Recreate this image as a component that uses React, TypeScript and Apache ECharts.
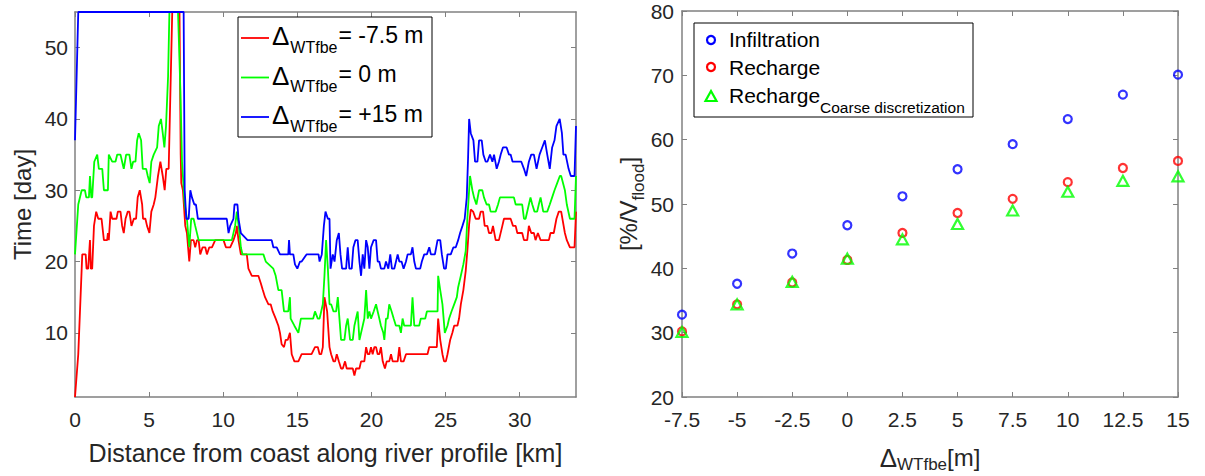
import React, { useEffect, useRef } from "react";
import * as echarts from "echarts";

const FONT = "'Liberation Sans', Arial, Helvetica, sans-serif";
const AXIS_GRAY = "#808080";
const TEXT_DARK = "#262626";

// ---------- Left chart: arrival time along river profile ----------
const profileXTicks = [0, 5, 10, 15, 20, 25, 30];
const profileYTicks = [10, 20, 30, 40, 50];
const profileXMax = 33.8;
const profileYMin = 1;
const profileYMax = 55;

const redProfile = [
  [0, 1], [0.22, 7], [0.49, 21], [0.72, 21], [0.78, 19], [0.89, 19], [1.01, 23], [1.07, 19], [1.16, 19], [1.28, 25],
  [1.43, 27], [1.57, 26], [1.79, 26], [1.95, 23], [2.17, 23], [2.22, 24], [2.28, 23], [2.4, 27], [2.51, 26], [2.8, 26],
  [2.89, 27], [3.07, 27], [3.18, 25], [3.29, 24], [3.41, 26], [3.56, 27], [3.67, 27], [3.81, 25], [3.97, 26], [4.12, 26],
  [4.23, 29], [4.37, 30], [4.53, 28], [4.59, 26], [4.75, 26], [4.86, 25], [5.02, 24], [5.15, 27], [5.31, 28], [5.42, 29],
  [5.6, 32], [5.76, 34], [5.92, 32], [6.05, 30], [6.16, 33], [6.32, 33], [6.56, 55], [7.05, 55], [7.13, 35], [7.17, 31],
  [7.28, 30], [7.44, 25], [7.55, 24], [7.71, 20], [7.82, 23], [8.0, 23], [8.11, 22], [8.23, 23], [8.34, 23], [8.45, 21],
  [8.61, 22], [8.79, 22], [8.9, 21], [9.06, 22], [9.24, 22], [9.46, 23], [10.02, 23], [10.18, 22], [10.47, 22], [10.69, 23],
  [10.85, 24], [10.92, 25], [11.03, 23], [11.19, 21], [11.59, 21], [11.7, 19], [11.93, 18], [12.37, 18], [12.53, 17], [12.67, 16],
  [12.82, 15], [13.05, 14], [13.2, 14], [13.34, 13], [13.54, 12], [13.72, 11], [13.83, 10], [13.94, 8.4], [14.1, 8], [14.21, 9],
  [14.35, 9], [14.5, 10], [14.62, 7], [14.8, 6], [15.07, 6], [15.29, 7], [15.96, 7], [16.19, 8], [16.38, 8], [16.5, 7],
  [16.61, 7], [16.72, 8], [16.83, 15], [17.01, 13], [17.17, 8], [17.28, 7], [17.44, 6], [17.55, 6], [17.66, 7], [17.8, 6],
  [17.95, 5], [18.07, 5], [18.22, 6], [18.33, 5], [18.74, 5], [18.85, 4], [18.96, 5], [19.19, 5], [19.3, 6], [19.52, 6],
  [19.64, 8], [19.75, 7], [19.86, 7], [19.97, 8], [20.08, 7], [20.2, 8], [20.31, 8], [20.42, 7], [20.53, 7], [20.64, 8],
  [20.76, 6], [20.91, 5], [21.03, 6], [21.2, 6], [21.32, 7], [21.43, 6], [21.77, 6], [21.88, 8], [21.99, 6], [22.17, 6],
  [22.33, 7], [23.78, 7], [23.9, 8], [24.41, 8], [24.5, 12], [24.64, 9], [24.79, 7], [24.9, 6], [25.02, 6], [25.13, 7],
  [25.31, 9], [25.46, 10], [25.58, 11], [25.8, 11], [25.91, 12], [26.03, 14], [26.2, 16], [26.36, 18.7], [26.47, 21.5], [26.59, 25.2],
  [26.7, 27.3], [26.86, 27], [27.03, 26], [27.26, 26], [27.37, 27], [27.53, 27], [27.64, 25], [27.82, 25], [27.93, 24], [28.09, 24],
  [28.2, 25], [28.38, 23], [28.6, 23], [28.83, 25], [28.94, 26], [29.39, 26], [29.55, 25], [29.73, 25], [29.84, 24], [30.17, 24],
  [30.29, 23], [30.51, 23], [30.62, 25], [30.78, 24], [30.96, 24], [31.07, 23], [31.23, 24], [31.41, 23], [31.97, 23], [32.08, 24],
  [32.3, 24], [32.48, 26], [32.64, 27], [32.8, 27], [33.05, 24], [33.18, 23], [33.39, 22], [33.7, 22], [33.8, 27],
];

const greenProfile = [
  [0, 21], [0.22, 28], [0.45, 30], [0.67, 30], [0.76, 29], [0.94, 29], [1.01, 32], [1.1, 29], [1.16, 29], [1.3, 34],
  [1.5, 35], [1.61, 33], [1.84, 33], [1.95, 30], [2.22, 30], [2.28, 35], [2.51, 34], [2.73, 34], [2.85, 35], [3.07, 35],
  [3.18, 34], [3.29, 33], [3.45, 35], [3.67, 35], [3.81, 33], [3.92, 34], [4.08, 34], [4.19, 37], [4.3, 38], [4.46, 37],
  [4.57, 33], [4.8, 33], [4.91, 32], [5.04, 31], [5.15, 34], [5.31, 35], [5.54, 36], [5.65, 39], [5.8, 40], [5.92, 38],
  [6.03, 36], [6.14, 39], [6.28, 46], [6.37, 55], [6.95, 55], [7.11, 44], [7.22, 34], [7.4, 28], [7.55, 26], [7.71, 22],
  [7.84, 26], [8.0, 26], [8.11, 25], [8.34, 23], [10.58, 23], [10.8, 25], [10.92, 27], [11.1, 24], [11.19, 22], [11.3, 21],
  [12.71, 21], [12.87, 20], [13.38, 19], [13.54, 18], [13.72, 16], [13.94, 16], [14.1, 13], [14.39, 13], [14.5, 15], [14.55, 12],
  [14.8, 11], [15.07, 10], [15.24, 12], [16.07, 12], [16.19, 13], [16.38, 12], [16.5, 12], [16.61, 13], [16.72, 14], [16.83, 18],
  [16.94, 23], [17.06, 19], [17.17, 14], [17.28, 14], [17.44, 13], [17.62, 13], [17.73, 15], [17.84, 12], [17.95, 9], [18.18, 9],
  [18.29, 11], [18.4, 12], [18.56, 9], [18.74, 9], [18.85, 11], [18.96, 12], [19.07, 13], [19.19, 9], [19.3, 10], [19.41, 11],
  [19.52, 12], [19.64, 16], [19.75, 12], [19.86, 13], [19.97, 12], [20.15, 13], [20.31, 14], [20.42, 13], [20.53, 12], [20.64, 11],
  [20.8, 10], [20.87, 9], [20.98, 12], [21.09, 12], [21.2, 14], [21.36, 13], [21.5, 12], [21.65, 11], [21.88, 11], [21.99, 10],
  [22.1, 12], [22.21, 11], [22.66, 11], [22.77, 15], [22.89, 11], [23.22, 11], [23.33, 12], [23.63, 12], [23.74, 13], [24.46, 13],
  [24.5, 18], [24.64, 16], [24.79, 14], [24.95, 10], [25.13, 11], [25.24, 12], [25.4, 13], [25.58, 14], [25.76, 15], [25.85, 16.4],
  [26.03, 18], [26.2, 19.6], [26.36, 21.5], [26.47, 26], [26.59, 30], [26.65, 32], [26.81, 30], [26.92, 29], [27.08, 28], [27.26, 30],
  [27.48, 30], [27.59, 29], [27.77, 28], [27.93, 28], [28.04, 27], [28.38, 27], [28.54, 28], [28.67, 29], [29.61, 29], [29.73, 28],
  [30.17, 28], [30.29, 26], [30.4, 26], [30.62, 28], [30.73, 29], [30.85, 28], [31.0, 27], [31.18, 27], [31.29, 28], [31.41, 29],
  [31.59, 27], [31.86, 27], [32.03, 28], [32.19, 29], [32.35, 30], [32.53, 31], [32.71, 32], [32.8, 32], [33.05, 30], [33.18, 28],
  [33.39, 26], [33.7, 26], [33.8, 32],
];

const blueProfile = [
  [0, 37], [0.22, 55], [7.33, 55], [7.4, 30], [7.51, 26], [7.67, 26], [7.78, 30], [7.89, 29], [8.05, 28], [8.16, 28],
  [8.29, 26], [10.24, 26], [10.36, 24], [10.47, 25], [10.69, 26], [10.76, 28], [10.96, 28], [11.03, 26], [11.19, 24], [11.64, 23],
  [13.27, 23], [13.38, 22], [13.61, 22], [13.83, 21], [14.39, 21], [14.44, 23], [14.5, 21], [14.73, 21], [14.84, 19.6], [15.0, 19],
  [15.18, 20], [15.29, 20], [15.62, 21], [16.43, 21], [16.5, 20], [16.65, 21], [16.79, 25], [16.9, 27], [17.06, 26], [17.17, 26],
  [17.24, 19], [17.39, 21], [17.51, 20], [17.66, 23], [17.8, 24], [17.91, 21], [18.02, 19], [18.29, 19], [18.4, 22], [18.51, 19],
  [18.67, 19], [18.78, 22], [18.92, 23], [19.07, 23], [19.19, 20], [19.3, 18], [19.41, 21], [19.52, 19], [19.64, 23], [19.75, 22],
  [19.86, 19], [19.97, 22], [20.15, 23], [20.31, 23], [20.42, 20], [20.53, 20], [20.64, 19], [20.87, 19], [20.98, 20], [21.14, 19],
  [21.27, 21], [21.38, 19], [21.54, 19], [21.77, 21], [21.88, 20], [22.03, 20], [22.17, 19], [22.33, 20], [22.44, 21], [22.66, 21],
  [22.77, 22], [22.89, 20], [23.0, 19], [23.29, 19], [23.4, 20], [23.56, 21], [23.74, 21], [23.9, 22], [24.01, 21], [24.28, 21],
  [24.46, 23], [24.64, 23], [24.75, 21], [24.9, 19], [25.02, 19], [25.13, 21], [25.35, 21], [25.53, 22], [25.69, 22], [25.85, 23],
  [25.98, 24], [26.14, 25], [26.29, 26], [26.43, 29], [26.52, 34.6], [26.59, 40], [26.7, 38], [26.88, 37], [26.99, 34], [27.15, 34],
  [27.26, 37], [27.44, 37], [27.55, 35], [27.71, 34], [27.82, 34], [28.0, 35], [28.16, 34], [28.27, 35], [28.45, 33], [28.6, 34],
  [28.72, 35], [28.87, 36], [29.12, 36], [29.28, 35], [29.39, 35], [29.52, 34], [30.11, 34], [30.29, 33], [30.44, 32], [30.62, 34],
  [30.78, 35], [30.96, 35], [31.14, 33], [31.34, 35], [31.52, 36], [31.7, 37], [31.86, 35], [32.03, 33], [32.19, 36], [32.35, 37],
  [32.48, 39], [32.7, 40], [32.85, 38], [32.95, 35], [33.1, 35], [33.3, 33], [33.45, 32], [33.7, 32], [33.8, 39],
];

const profileLegendValues = ["-7.5 m", "0 m", "+15 m"];
const profileColors = ["#ff0000", "#00ff00", "#0000ff"];

// ---------- Right chart: infiltration / recharge vs ΔWTfbe ----------
const deltaValues = [-7.5, -5, -2.5, 0, 2.5, 5, 7.5, 10, 12.5, 15];
const infiltration = [32.8, 37.6, 42.3, 46.7, 51.2, 55.4, 59.3, 63.2, 67.0, 70.1];
const recharge = [30.2, 34.4, 37.8, 41.3, 45.5, 48.6, 50.8, 53.4, 55.6, 56.7];
const rechargeCoarse = [30.1, 34.4, 37.9, 41.5, 44.5, 46.9, 49.0, 51.9, 53.6, 54.3];
const scatterNames = ["Infiltration", "Recharge", "Recharge", "Coarse discretization"];

function baseAxis(extra: any) {
  return {
    type: "value",
    nameMoveOverlap: false,
    axisLine: { show: true, onZero: false, lineStyle: { color: AXIS_GRAY, width: 1.5 } },
    axisTick: { show: true, inside: true, length: 5, lineStyle: { color: AXIS_GRAY, width: 1 } },
    splitLine: { show: false },
    minorTick: { show: false },
    axisLabel: { show: true, color: TEXT_DARK, fontSize: 21, fontFamily: FONT, margin: 12 },
    ...extra,
  };
}

function buildOption() {
  const profiles = [redProfile, greenProfile, blueProfile];
  const lineSeries = profiles.map((d, i) => ({
    type: "line",
    name: "ΔWTfbe = " + profileLegendValues[i],
    xAxisIndex: 0,
    yAxisIndex: 0,
    data: d,
    symbol: "none",
    showSymbol: false,
    silent: true,
    clip: true,
    lineStyle: { color: profileColors[i], width: 1.8 },
    itemStyle: { color: profileColors[i] },
  }));

  const hollow = (color: string) => ({ color: "rgba(0,0,0,0)", borderColor: color, borderWidth: 2.2 });
  const scatterSeries = [
    {
      type: "scatter", name: scatterNames[0], xAxisIndex: 2, yAxisIndex: 2, silent: true,
      data: deltaValues.map((x, i) => [x, infiltration[i]]),
      symbol: "circle", symbolSize: 8, itemStyle: hollow("#0000ff"),
    },
    {
      type: "scatter", name: scatterNames[1], xAxisIndex: 2, yAxisIndex: 2, silent: true,
      data: deltaValues.map((x, i) => [x, recharge[i]]),
      symbol: "circle", symbolSize: 8, itemStyle: hollow("#ff0000"),
    },
    {
      type: "scatter", name: scatterNames[2] + " " + scatterNames[3], xAxisIndex: 2, yAxisIndex: 2, silent: true,
      data: deltaValues.map((x, i) => [x, rechargeCoarse[i]]),
      symbol: "triangle", symbolSize: [11, 10], itemStyle: hollow("#00ff00"),
    },
  ];

  const legendRich = {
    d: { fontSize: 26, lineHeight: 26, fontFamily: FONT, fill: "#000", verticalAlign: "top" },
    s: { fontSize: 16, lineHeight: 16, fontFamily: FONT, fill: "#000", verticalAlign: "top", padding: [16, 1, 0, 1] },
    n: { fontSize: 23, lineHeight: 23, fontFamily: FONT, fill: "#000", verticalAlign: "top" },
  };

  const leftLegend: any[] = [
    { type: "rect", z: 100, shape: { x: 238, y: 17, width: 194, height: 120 }, style: { fill: "#fff", stroke: "#000", lineWidth: 1 } },
  ];
  profileLegendValues.forEach((v, i) => {
    const rowY = 38 + 39.5 * i;
    leftLegend.push({
      type: "line", z: 101,
      shape: { x1: 241, y1: rowY, x2: 269, y2: rowY },
      style: { stroke: profileColors[i], lineWidth: 1.8 },
    });
    leftLegend.push({
      type: "text", z: 101, x: 272, y: rowY - 15,
      style: { text: "{d|Δ}{s|WTfbe}{n|= " + v + "}", rich: legendRich, align: "left", verticalAlign: "top" },
    });
  });

  const rightLegend: any[] = [
    { type: "rect", z: 100, shape: { x: 694, y: 23, width: 279, height: 94 }, style: { fill: "#fff", stroke: "#000", lineWidth: 1 } },
    { type: "circle", z: 101, shape: { cx: 711, cy: 40, r: 4 }, style: { fill: "none", stroke: "#0000ff", lineWidth: 2.2 } },
    { type: "circle", z: 101, shape: { cx: 711, cy: 67, r: 4 }, style: { fill: "none", stroke: "#ff0000", lineWidth: 2.2 } },
    { type: "polygon", z: 101, shape: { points: [[705.5, 101], [716.5, 101], [711, 91]] }, style: { fill: "none", stroke: "#00ff00", lineWidth: 2.2 } },
    { type: "text", z: 101, x: 729, y: 39.5, style: { text: scatterNames[0], fontSize: 21, fontFamily: FONT, fill: "#000", align: "left", verticalAlign: "middle" } },
    { type: "text", z: 101, x: 729, y: 67.5, style: { text: scatterNames[1], fontSize: 21, fontFamily: FONT, fill: "#000", align: "left", verticalAlign: "middle" } },
    {
      type: "text", z: 101, x: 729, y: 85,
      style: {
        text: "{m|" + scatterNames[2] + "}{s|" + scatterNames[3] + "}",
        align: "left", verticalAlign: "top",
        rich: {
          m: { fontSize: 21, lineHeight: 21, fontFamily: FONT, fill: "#000", verticalAlign: "top" },
          s: { fontSize: 15.5, lineHeight: 15, fontFamily: FONT, fill: "#000", verticalAlign: "top", padding: [14, 0, 0, 0] },
        },
      },
    },
  ];

  return {
    animation: false,
    backgroundColor: "#ffffff",
    textStyle: { fontFamily: FONT },
    grid: [
      { left: 75, top: 12, width: 501, height: 385, outerBoundsMode: "none", containLabel: false },
      { left: 682, top: 11, width: 496, height: 386, outerBoundsMode: "none", containLabel: false },
    ],
    xAxis: [
      baseAxis({
        gridIndex: 0, position: "bottom", min: 0, max: profileXMax, interval: 5,
        axisLabel: { show: true, color: TEXT_DARK, fontSize: 21, fontFamily: FONT, margin: 12, customValues: profileXTicks },
        axisTick: { show: true, inside: true, length: 5, lineStyle: { color: AXIS_GRAY, width: 1 }, customValues: profileXTicks },
        name: "Distance from coast along river profile [km]",
        nameLocation: "middle", nameGap: 43,
        nameTextStyle: { fontSize: 25, color: TEXT_DARK, fontFamily: FONT },
      }),
      baseAxis({
        gridIndex: 0, position: "top", min: 0, max: profileXMax, interval: 5,
        axisLabel: { show: false },
        axisTick: { show: true, inside: true, length: 5, lineStyle: { color: AXIS_GRAY, width: 1 }, customValues: profileXTicks },
      }),
      baseAxis({
        gridIndex: 1, position: "bottom", min: -7.5, max: 15, interval: 2.5,
        name: "{d|Δ}{s|WTfbe}{m|[m]}",
        nameLocation: "middle", nameGap: 48,
        nameTextStyle: {
          color: TEXT_DARK, fontFamily: FONT,
          rich: {
            d: { fontSize: 26, lineHeight: 26, color: TEXT_DARK, fontFamily: FONT, verticalAlign: "top" },
            s: { fontSize: 17, lineHeight: 17, color: TEXT_DARK, fontFamily: FONT, verticalAlign: "top", padding: [11, 0, 0, 0] },
            m: { fontSize: 24, lineHeight: 24, color: TEXT_DARK, fontFamily: FONT, verticalAlign: "top" },
          },
        },
      }),
      baseAxis({
        gridIndex: 1, position: "top", min: -7.5, max: 15, interval: 2.5,
        axisLabel: { show: false },
      }),
    ],
    yAxis: [
      baseAxis({
        gridIndex: 0, position: "left", min: profileYMin, max: profileYMax, interval: 10,
        axisLabel: { show: true, color: TEXT_DARK, fontSize: 21, fontFamily: FONT, margin: 7, customValues: profileYTicks },
        axisTick: { show: true, inside: true, length: 5, lineStyle: { color: AXIS_GRAY, width: 1 }, customValues: profileYTicks },
        name: "Time [day]",
        nameLocation: "middle", nameGap: 41,
        nameTextStyle: { fontSize: 24, color: TEXT_DARK, fontFamily: FONT },
      }),
      baseAxis({
        gridIndex: 0, position: "right", min: profileYMin, max: profileYMax, interval: 10,
        axisLabel: { show: false },
        axisTick: { show: true, inside: true, length: 5, lineStyle: { color: AXIS_GRAY, width: 1 }, customValues: profileYTicks },
      }),
      baseAxis({
        gridIndex: 1, position: "left", min: 20, max: 80, interval: 10,
        axisLabel: { show: true, color: TEXT_DARK, fontSize: 21, fontFamily: FONT, margin: 8 },
        name: "{m|[%/V}{s|flood}{m|]}",
        nameLocation: "middle", nameGap: 42,
        nameTextStyle: {
          color: TEXT_DARK, fontFamily: FONT,
          rich: {
            m: { fontSize: 24, lineHeight: 24, color: TEXT_DARK, fontFamily: FONT, verticalAlign: "top" },
            s: { fontSize: 17, lineHeight: 17, color: TEXT_DARK, fontFamily: FONT, verticalAlign: "top", padding: [14, 0, 0, 0] },
          },
        },
      }),
      baseAxis({
        gridIndex: 1, position: "right", min: 20, max: 80, interval: 10,
        axisLabel: { show: false },
      }),
    ],
    series: [...lineSeries, ...scatterSeries],
    graphic: [...leftLegend, ...rightLegend],
  };
}

export default function App() {
  const ref = useRef<HTMLDivElement>(null);
  useEffect(() => {
    if (!ref.current) return;
    const chart = echarts.init(ref.current, null, { renderer: "svg" });
    chart.setOption(buildOption() as any);
    return () => chart.dispose();
  }, []);
  return (
    <div
      ref={ref}
      style={{ position: "absolute", left: 0, top: 0, width: 1205, height: 476, background: "#ffffff" }}
    />
  );
}
